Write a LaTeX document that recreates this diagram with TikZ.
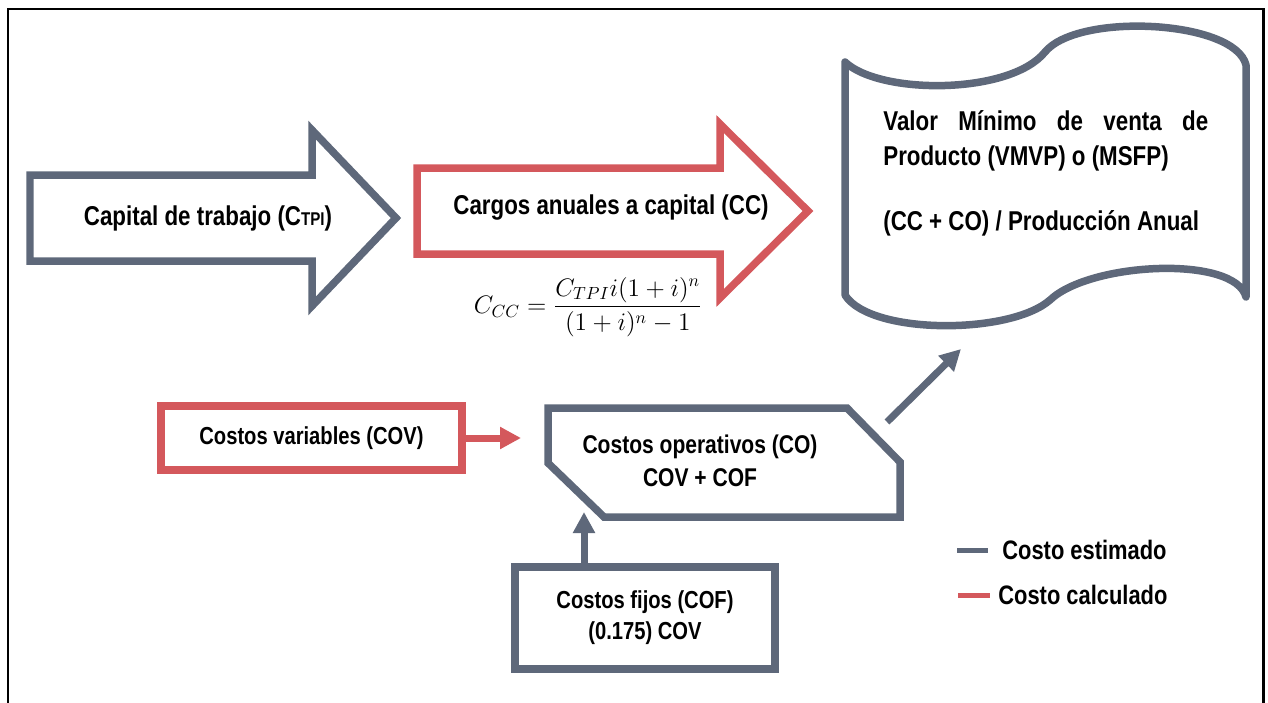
\documentclass[tikz,border=0pt]{standalone}
\usepackage{amsmath}
\usepackage[no-math]{fontspec}
\setmainfont[FakeStretch=0.82]{Liberation Sans}
\usetikzlibrary{arrows.meta}
\definecolor{estgray}{RGB}{94,104,122}
\definecolor{calcred}{RGB}{212,88,92}
\tikzset{>={Triangle[length=0.42cm,width=0.42cm]}}

\begin{document}
\begin{tikzpicture}[x=0.02cm, y=-0.02cm,
  estline/.style={draw=estgray, line width=0.15cm, line join=miter},
  calcline/.style={draw=calcred, line width=0.15cm, line join=miter},
  estlink/.style={estgray, line width=0.14cm, ->},
  calclink/.style={calcred, line width=0.14cm, ->},
  bigtxt/.style={font=\bfseries\fontsize{15.5}{18}\selectfont, inner sep=0pt},
  boxtxt/.style={font=\bfseries\fontsize{14}{18}\selectfont, inner sep=0pt, align=center},
  legtxt/.style={font=\bfseries\fontsize{15.2}{18}\selectfont, inner sep=0pt, anchor=west}]
\useasboundingbox (0,0) rectangle (1268,703);
\draw[line width=0.06cm] (8,703) -- (8,9) -- (1263,9) -- (1263,703);

% block arrows
\draw[estline] (30,175) -- (312,175) -- (312,130) -- (396,218) -- (312,306) -- (312,261) -- (30,261) -- cycle;
\node[bigtxt] (ctpi) at (208,218) {Capital de trabajo (C{\fontsize{10.5}{12}\selectfont TPI})};
\draw[calcline] (417,168) -- (720,168) -- (720,124) -- (808,211) -- (720,298) -- (720,254) -- (417,254) -- cycle;
\node[bigtxt] (cc) at (611,208) {Cargos anuales a capital (CC)};
\node[inner sep=0pt, font=\fontsize{14.3}{16}\selectfont] (ccform) at (588,307)
  {$\displaystyle C_{CC}=\frac{C_{TPI}i(1+i)^n}{(1+i)^n-1}$};

% wave
\draw[estline, line join=round] (845,62) .. controls (880,95) and (1010,95) .. (1045,52)
  .. controls (1078,12) and (1235,20) .. (1246,65) -- (1246,297)
  .. controls (1235,255) and (1090,262) .. (1050,300)
  .. controls (1010,335) and (870,335) .. (845,295) -- cycle;
\node[font=\bfseries\fontsize{15.5}{19.9}\selectfont, inner sep=0pt, anchor=west, align=left] (vmvp) at (883,173)
  {\makebox[6.5cm][s]{Valor Mínimo de venta de}\\Producto (VMVP) o (MSFP)\\[0.6cm](CC + CO) / Producción Anual};

% costs
\draw[estline] (548,408) -- (847,408) -- (900,462) -- (900,517) -- (604,517) -- (548,463) -- cycle;
\node[boxtxt, font=\bfseries\fontsize{14.6}{18.8}\selectfont] (co) at (700,461) {Costos operativos (CO)\\COV + COF};
\node[boxtxt, draw=calcred, line width=0.15cm, minimum width=6.02cm, minimum height=1.28cm] (cov) at (311.5,438) {Costos variables (COV)};
\node[boxtxt, draw=estgray, line width=0.15cm, minimum width=5.2cm, minimum height=2.04cm, font=\bfseries\fontsize{14}{17.6}\selectfont] (cof) at (645,618) {Costos fijos (COF)\\(0.175) COV};

\coordinate (covtip) at (521,438);
\coordinate (cotip) at (584,512);
\coordinate (coout) at (887,422);
\coordinate (vmvptip) at (961,349);
\draw[calclink] (cov) -- (covtip);
\draw[estlink] (cof.north -| cotip) -- (cotip);
\draw[estlink] (coout) -- (vmvptip);

% legend
\node[legtxt] (legest) at (1002,550) {Costo estimado};
\node[legtxt] (legcalc) at (998,595) {Costo calculado};
\draw[estgray, line width=0.1cm] (957,550) -- (988,550);
\draw[calcred, line width=0.1cm] (958,595) -- (990,595);
\end{tikzpicture}
\end{document}
